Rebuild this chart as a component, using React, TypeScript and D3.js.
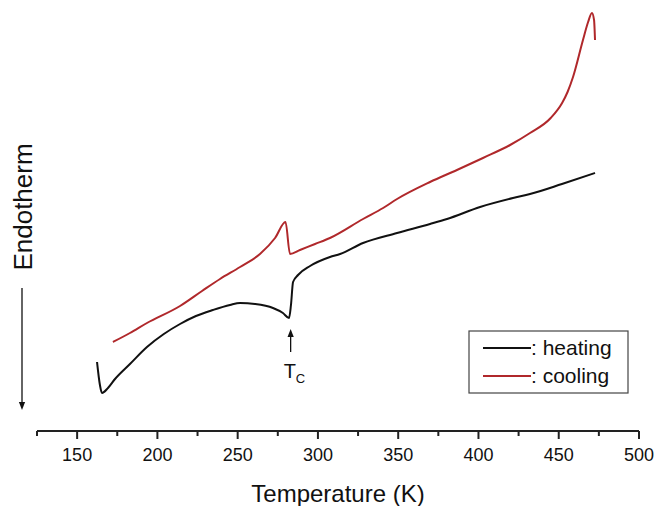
import React from 'react';
import * as d3 from 'd3';

// temperature (K) and heat flow (arb. units)
const heatingT = [162.4, 164.2, 165.5, 169.2, 173.6, 182.9, 193.5, 204, 214.1, 224, 234.6, 245.2, 251.5, 260.8, 272.0, 278.2, 282.0, 283.2, 284.5, 287.6, 295.1, 307.5, 313.8, 328.1, 349.3, 369.8, 380.4, 401.0, 421.5, 432.1, 452, 472.6];
const heatingY = [0.69, 0.46, 0.38, 0.43, 0.52, 0.67, 0.84, 0.97, 1.07, 1.15, 1.21, 1.26, 1.28, 1.27, 1.23, 1.18, 1.13, 1.26, 1.49, 1.56, 1.65, 1.74, 1.77, 1.88, 1.98, 2.07, 2.12, 2.24, 2.33, 2.37, 2.47, 2.58];

const coolingT = [172.3, 182.9, 193.5, 214.1, 227.8, 239.0, 251.5, 263.9, 273.3, 279.8, 282.6, 288.8, 298.2, 307.5, 328.1, 340.6, 349.3, 369.8, 386.6, 402.8, 419.7, 432.1, 445, 452.1, 455.5, 458.9, 465.1, 468.3, 470.7, 472.0, 472.6];
const coolingY = [0.89, 0.98, 1.08, 1.25, 1.40, 1.52, 1.64, 1.77, 1.93, 2.09, 1.77, 1.81, 1.87, 1.93, 2.12, 2.23, 2.32, 2.49, 2.61, 2.73, 2.86, 2.98, 3.13, 3.28, 3.39, 3.54, 3.91, 4.09, 4.18, 4.11, 3.91];

const xTicks = [150, 200, 250, 300, 350, 400, 450, 500];
const xMinor = [175, 225, 275, 325, 375, 425, 475];
const tc = 283;

const W = 657;
const H = 506;
const font = '"Liberation Sans", Arial, sans-serif';

const App = () => {
  const x = d3.scaleLinear().domain([125, 500]).range([37, 639]);
  const y = d3.scaleLinear().domain([0, 4.31]).range([431, 0]);
  const axisY = 431;

  const line = d3
    .line<[number, number]>()
    .x((d) => x(d[0]))
    .y((d) => y(d[1]))
    .curve(d3.curveMonotoneX);

  const heating = heatingT.map((t, i) => [t, heatingY[i]] as [number, number]);
  const cooling = coolingT.map((t, i) => [t, coolingY[i]] as [number, number]);

  return (
    <svg width={W} height={H} style={{ position: 'absolute', left: 0, top: 0, background: '#fff' }} fontFamily={font}>
      <defs>
        <marker id="arr" viewBox="0 0 10 10" refX="5" refY="5" markerWidth="6" markerHeight="8" orient="auto">
          <path d="M0,1 L10,5 L0,9 z" fill="#111" />
        </marker>
      </defs>

      <path d={line(cooling) || ''} fill="none" stroke="#b0282b" strokeWidth={2} strokeLinejoin="round" />
      <path d={line(heating) || ''} fill="none" stroke="#111" strokeWidth={2} strokeLinejoin="round" />

      {/* x axis */}
      <line x1={x(125)} x2={x(500)} y1={axisY} y2={axisY} stroke="#222" strokeWidth={2} />
      <line x1={x(125)} x2={x(125)} y1={axisY} y2={axisY + 5} stroke="#222" strokeWidth={2} />
      {xTicks.map((t) => (
        <g key={t}>
          <line x1={x(t)} x2={x(t)} y1={axisY} y2={axisY + 8} stroke="#222" strokeWidth={2} />
          <text x={x(t)} y={axisY + 30} textAnchor="middle" fontSize={18} fill="#111">
            {t}
          </text>
        </g>
      ))}
      {xMinor.map((t) => (
        <line key={t} x1={x(t)} x2={x(t)} y1={axisY} y2={axisY + 5} stroke="#222" strokeWidth={2} />
      ))}
      <text x={x(312.5)} y={502} textAnchor="middle" fontSize={24} fill="#111">
        Temperature (K)
      </text>

      {/* y label */}
      <text transform="translate(32,207) rotate(-90)" textAnchor="middle" fontSize={26} fill="#111">
        Endotherm
      </text>
      <line x1={22} x2={22} y1={288} y2={406} stroke="#111" strokeWidth={1.3} markerEnd="url(#arr)" />

      {/* Tc annotation */}
      <line x1={x(tc)} x2={x(tc)} y1={352} y2={333} stroke="#111" strokeWidth={1.3} markerEnd="url(#arr)" />
      <text x={x(tc) - 7} y={378} fontSize={20} fill="#111">
        T
        <tspan fontSize={13} dy={5}>C</tspan>
      </text>

      {/* legend */}
      <rect x={469} y={331} width={159} height={62} fill="#fff" stroke="#444" strokeWidth={1.2} />
      <line x1={483} x2={531} y1={348} y2={348} stroke="#111" strokeWidth={2} />
      <text x={531} y={355} fontSize={21} fill="#111">: heating</text>
      <line x1={483} x2={531} y1={376} y2={376} stroke="#b0282b" strokeWidth={2} />
      <text x={531} y={383} fontSize={21} fill="#111">: cooling</text>
    </svg>
  );
};

export default App;
